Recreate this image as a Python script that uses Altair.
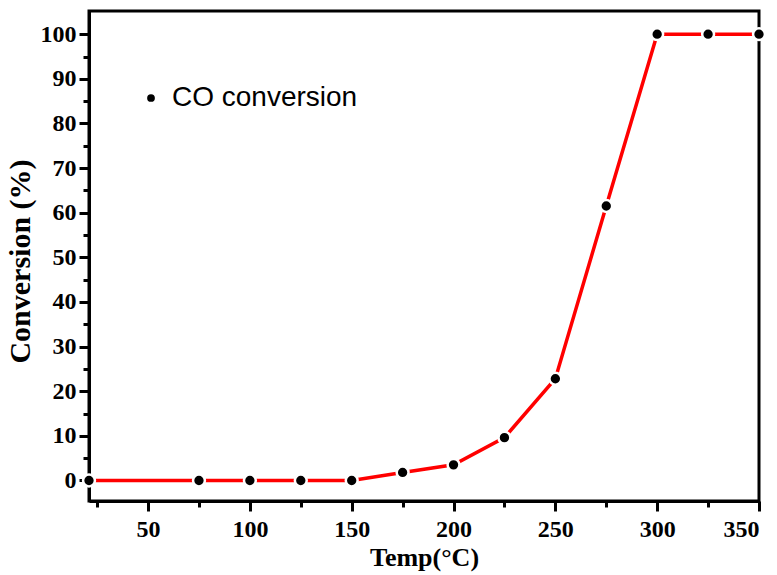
import altair as alt
import pandas as pd

# CO conversion vs. temperature
temps = [21, 75, 100, 125, 150, 175, 200, 225, 250, 275, 300, 325, 350]
conversion = [0, 0, 0, 0, 0, 1.8, 3.5, 9.6, 22.8, 61.5, 100, 100, 100]
series_name = "CO conversion"

x_major = [50, 100, 150, 200, 250, 300, 350]
x_minor = [25, 75, 125, 175, 225, 275, 325]
y_major = [0, 10, 20, 30, 40, 50, 60, 70, 80, 90, 100]
y_minor = [5, 15, 25, 35, 45, 55, 65, 75, 85, 95]

df = pd.DataFrame({"temp": temps, "conv": conversion, "series": series_name})

x_scale = alt.Scale(domain=[21, 350], nice=False, zero=False)
y_scale = alt.Scale(domain=[-4.6, 105.2], nice=False, zero=False)

serif = "Liberation Serif"

major_x_axis = alt.Axis(
    orient="bottom", values=x_major, title="Temp(°C)", grid=False,
    domainColor="black", domainWidth=3, tickColor="black", tickWidth=3, tickSize=10,
    labelFont=serif, labelFontWeight="bold", labelFontSize=24, labelColor="black",
    labelPadding=6, titleFont=serif, titleFontWeight="bold", titleFontSize=26,
    titleColor="black", titlePadding=3,
)
major_y_axis = alt.Axis(
    orient="left", values=y_major, title="Conversion (%)", grid=False,
    domainColor="black", domainWidth=3, tickColor="black", tickWidth=3, tickSize=10,
    labelFont=serif, labelFontWeight="bold", labelFontSize=24, labelColor="black",
    labelPadding=3, titleFont=serif, titleFontWeight="bold", titleFontSize=30,
    titleColor="black", titlePadding=5, titleY=250,
)
minor_x_axis = alt.Axis(
    orient="bottom", values=x_minor, title=None, labels=False, grid=False, domain=False,
    tickColor="black", tickWidth=3, tickSize=6,
)
minor_y_axis = alt.Axis(
    orient="left", values=y_minor, title=None, labels=False, grid=False, domain=False,
    tickColor="black", tickWidth=3, tickSize=6,
)

line = alt.Chart(df).mark_line(color="#ff0000", strokeWidth=3.5).encode(
    x=alt.X("temp:Q", scale=x_scale, axis=major_x_axis),
    y=alt.Y("conv:Q", scale=y_scale, axis=major_y_axis),
)

points = alt.Chart(df).mark_point(
    filled=True, size=140, opacity=1, stroke="white", strokeWidth=2.5
).encode(
    x=alt.X("temp:Q", scale=x_scale, axis=minor_x_axis),
    y=alt.Y("conv:Q", scale=y_scale, axis=minor_y_axis),
    fill=alt.Fill(
        "series:N",
        scale=alt.Scale(domain=[series_name], range=["black"]),
        legend=alt.Legend(
            title=None, orient="none", legendX=48, legendY=73,
            symbolType="circle", symbolSize=60, symbolFillColor="black",
            symbolStrokeWidth=0, labelFont="Liberation Sans", labelFontSize=28,
            labelColor="black", labelOffset=7, labelLimit=400,
        ),
    ),
)

chart = (
    alt.layer(line, points)
    .resolve_axis(x="independent", y="independent")
    .properties(
        width=670, height=490,
        autosize=alt.AutoSizeParams(type="none"),
        padding={"left": 89, "top": 11, "right": 18, "bottom": 74},
        background="white",
    )
    .configure_view(stroke="black", strokeWidth=3)
)

chart.save("out.html", embed_options={"renderer": "svg", "actions": False})
